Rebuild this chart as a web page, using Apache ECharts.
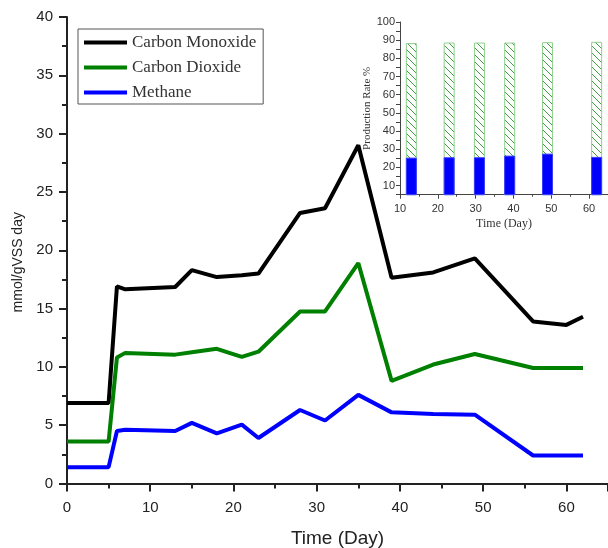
<!DOCTYPE html>
<html>
<head>
<meta charset="utf-8">
<script src="https://cdn.jsdelivr.net/npm/echarts@6/dist/echarts.min.js"></script>
<style>html,body{margin:0;padding:0;background:#fff;}#chart{width:608px;height:548px;}</style>
</head>
<body>
<div id="chart"></div>
<script>
// Main chart data
const days = [0, 5, 6, 7, 13, 15, 18, 21, 23, 28, 31, 35, 39, 44, 49, 56, 60, 62];
const carbonMonoxide = [6.9, 6.9, 16.9, 16.65, 16.85, 18.3, 17.7, 17.85, 18.0, 23.2, 23.6, 29.0, 17.65, 18.1, 19.3, 13.9, 13.6, 14.3];
const carbonDioxide = [3.6, 3.6, 10.8, 11.2, 11.05, 11.25, 11.55, 10.85, 11.3, 14.75, 14.75, 18.9, 8.8, 10.2, 11.1, 9.9, 9.9, 9.9];
const methane = [1.4, 1.4, 4.5, 4.6, 4.5, 5.2, 4.3, 5.05, 3.9, 6.3, 5.4, 7.6, 6.1, 5.95, 5.9, 2.4, 2.4, 2.4];
const seriesNames = ['Carbon Monoxide', 'Carbon Dioxide', 'Methane'];

// Inset chart data (production rate %)
const insetDays = [13, 23, 31, 39, 49, 62];
const methaneRate = [25.4, 25.6, 25.6, 26.5, 27.6, 25.8];
const co2Rate = [63.0, 63.1, 63.1, 62.2, 61.3, 63.3];

function pairs(xs, ys) { return xs.map((x, i) => [x, ys[i]]); }
// stacked top of the hatched bar (methane + CO2)
const stackedTop = methaneRate.map((v, i) => +(v + co2Rate[i]).toFixed(2));

function hatch() {
  const s = 7;
  const c = document.createElement('canvas');
  c.width = s; c.height = s;
  const g = c.getContext('2d');
  g.fillStyle = '#fff'; g.fillRect(0, 0, s, s);
  g.strokeStyle = '#3f9f3f'; g.lineWidth = 1;
  g.beginPath();
  g.moveTo(0, 0); g.lineTo(s, s);
  g.moveTo(-1, s - 1); g.lineTo(1, s + 1);
  g.moveTo(s - 1, -1); g.lineTo(s + 1, 1);
  g.stroke();
  return { image: c, repeat: 'repeat' };
}

const sans = 'Liberation Sans';
const serif = 'Liberation Serif';
const chart = echarts.init(document.getElementById('chart'), null, { renderer: 'canvas' });

chart.setOption({
  animation: false,
  backgroundColor: '#fff',
  legend: {
    data: seriesNames,
    orient: 'vertical',
    left: 78, top: 29,
    itemWidth: 43, itemHeight: 14, itemGap: 8,
    padding: [5, 7, 3, 4],
    borderColor: '#555', borderWidth: 1,
    itemStyle: { color: 'rgba(0,0,0,0)', borderColor: 'rgba(0,0,0,0)', borderWidth: 0 },
    lineStyle: { width: 4 },
    textStyle: { fontFamily: serif, fontSize: 17, color: '#333' }
  },
  grid: [
    { left: 67, top: 17, width: 541, height: 466.5, outerBoundsMode: 'none', containLabel: false },
    { left: 400, top: 22, width: 208, height: 172.7, outerBoundsMode: 'none', containLabel: false }
  ],
  xAxis: [
    {
      gridIndex: 0, type: 'value', min: 0, max: 65, interval: 10,
      axisLine: { lineStyle: { color: '#222', width: 2 } },
      axisTick: { length: 8, lineStyle: { color: '#222', width: 2 } },
      minorTick: { show: true, splitNumber: 2, length: 5, lineStyle: { color: '#222', width: 2 } },
      splitLine: { show: false },
      axisLabel: { fontFamily: sans, fontSize: 15, color: '#222', margin: 17, showMaxLabel: false },
      name: 'Time (Day)', nameLocation: 'middle', nameGap: 46,
      nameTextStyle: { fontFamily: sans, fontSize: 19, color: '#222' }
    },
    {
      gridIndex: 1, type: 'value', min: 10, max: 65, interval: 10,
      axisLine: { lineStyle: { color: '#444', width: 1 } },
      axisTick: { length: 4, lineStyle: { color: '#444' } },
      minorTick: { show: true, splitNumber: 2, length: 2, lineStyle: { color: '#444' } },
      splitLine: { show: false },
      axisLabel: { fontFamily: sans, fontSize: 11, color: '#333', margin: 9, showMaxLabel: false },
      name: 'Time (Day)', nameLocation: 'middle', nameGap: 23,
      nameTextStyle: { fontFamily: serif, fontSize: 12, color: '#333' }
    }
  ],
  yAxis: [
    {
      gridIndex: 0, type: 'value', min: 0, max: 40, interval: 5,
      axisLine: { show: true, lineStyle: { color: '#222', width: 2 } },
      axisTick: { show: true, length: 8, lineStyle: { color: '#222', width: 2 } },
      minorTick: { show: true, splitNumber: 2, length: 5, lineStyle: { color: '#222', width: 2 } },
      splitLine: { show: false },
      axisLabel: { fontFamily: sans, fontSize: 15, color: '#222', margin: 14 },
      name: 'mmol/gVSS day', nameLocation: 'middle', nameGap: 42,
      nameTextStyle: { fontFamily: sans, fontSize: 14, color: '#222', padding: [0, 24, 0, 0] }
    },
    {
      gridIndex: 1, type: 'value', min: 5, max: 100, interval: 5,
      axisLine: { show: true, lineStyle: { color: '#444', width: 1 } },
      axisTick: { show: true, length: 4, lineStyle: { color: '#444' } },
      splitLine: { show: false },
      axisLabel: {
        fontFamily: sans, fontSize: 11, color: '#333', margin: 5,
        formatter: v => (v % 10 === 0 ? String(v) : '')
      },
      name: 'Production Rate %', nameLocation: 'middle', nameGap: 15,
      nameTextStyle: { fontFamily: serif, fontSize: 11, color: '#333' }
    }
  ],
  series: [
    {
      name: seriesNames[0], type: 'line', xAxisIndex: 0, yAxisIndex: 0,
      data: pairs(days, carbonMonoxide), symbol: 'none',
      lineStyle: { color: '#000', width: 4 }, itemStyle: { color: '#000' }
    },
    {
      name: seriesNames[1], type: 'line', xAxisIndex: 0, yAxisIndex: 0,
      data: pairs(days, carbonDioxide), symbol: 'none',
      lineStyle: { color: '#008000', width: 4 }, itemStyle: { color: '#008000' }
    },
    {
      name: seriesNames[2], type: 'line', xAxisIndex: 0, yAxisIndex: 0,
      data: pairs(days, methane), symbol: 'none',
      lineStyle: { color: '#0000ff', width: 4 }, itemStyle: { color: '#0000ff' }
    },
    {
      name: 'CO2 rate', type: 'bar', xAxisIndex: 1, yAxisIndex: 1,
      data: pairs(insetDays, stackedTop), barWidth: 11, barGap: '-100%', clip: true,
      itemStyle: { color: hatch(), borderColor: '#8fd08f', borderWidth: 1 }
    },
    {
      name: 'Methane rate', type: 'bar', xAxisIndex: 1, yAxisIndex: 1,
      data: pairs(insetDays, methaneRate), barWidth: 11, barGap: '-100%', clip: true,
      itemStyle: { color: '#0000ff', borderColor: '#3c3cff', borderWidth: 1 }
    }
  ]
});
</script>
</body>
</html>
